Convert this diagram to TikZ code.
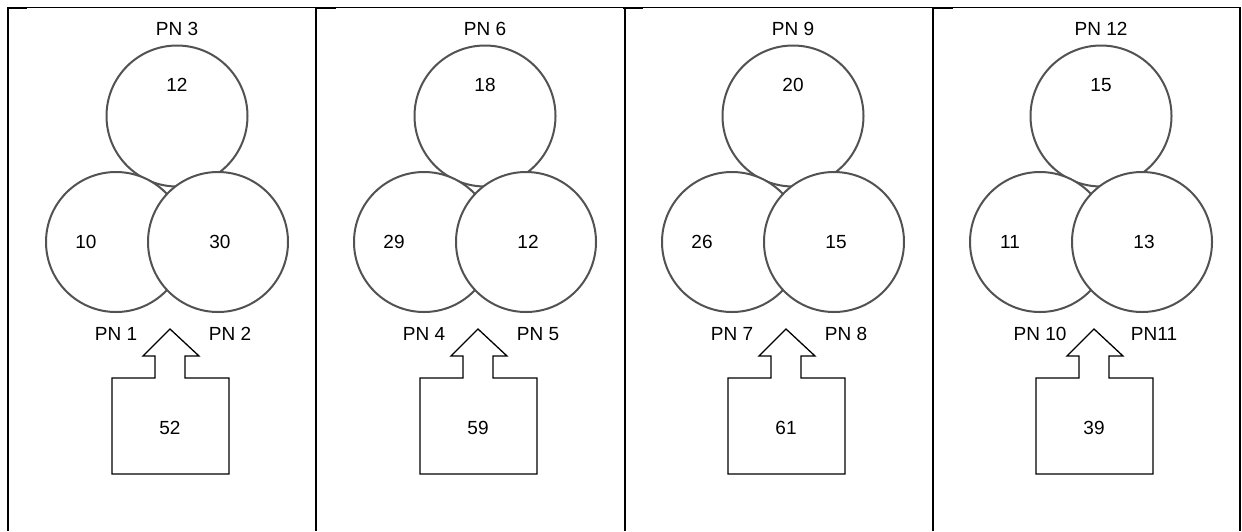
\documentclass[tikz,border=0pt]{standalone}
\usepackage{fontspec}
\setmainfont{Liberation Sans}
\begin{document}
\begin{tikzpicture}[x=1pt,y=-1pt,
  font=\fontsize{19}{21}\selectfont,
  ring/.style={circle, draw=black!68, line width=2pt, fill=white, inner sep=0pt, minimum size=141pt},
  lbl/.style={inner sep=0pt, anchor=center},
  frame/.style={line width=2pt, black},
  topline/.style={line width=1.3pt, black},
  boxarrow/.style={line width=1.3pt, black, line join=miter}]
\useasboundingbox (0,0) rectangle (1242,531);
% frame
\draw[topline] (7,7.5) -- (1241,7.5);
\foreach \x in {8,316,625,933,1240} {
  \draw[frame] (\x,7) -- (\x,531);
}
\foreach \x in {7,316,623,933} {
  \draw[line width=2pt] (\x,8) -- ({\x+20},8);
}
% panels
\foreach \i/\pt/\nt/\nl/\nr/\pl/\pr/\nb in {
  0/PN 3/12/10/30/PN 1/PN 2/52,
  1/PN 6/18/29/12/PN 4/PN 5/59,
  2/PN 9/20/26/15/PN 7/PN 8/61,
  3/PN 12/15/11/13/PN 10/PN11/39} {
  \begin{scope}[xshift=308*\i]
    \node[ring] (top\i) at (177,116) {};
    \node[ring, minimum size=140pt] (left\i) at (116,242) {};
    \node[ring, minimum size=140pt] (right\i) at (218,242) {};
    \node[lbl] (pnt\i) at (177,29) {\pt};
    \node[lbl] (nt\i) at (177,85) {\nt};
    \node[lbl] (nl\i) at (86,242) {\nl};
    \node[lbl] (nr\i) at (220,242) {\nr};
    \node[lbl] (pnl\i) at (116,334) {\pl};
    \node[lbl] (pnr\i) at (230,334) {\pr};
    \draw[boxarrow] (112,378) -- (155,378) -- (155,356) -- (143,356) -- (170,329)
      -- (199,356) -- (185,356) -- (185,378) -- (229,378) -- (229,474) -- (112,474) -- cycle;
    \node[lbl] (nb\i) at (170,428) {\nb};
  \end{scope}
}
\end{tikzpicture}
\end{document}
